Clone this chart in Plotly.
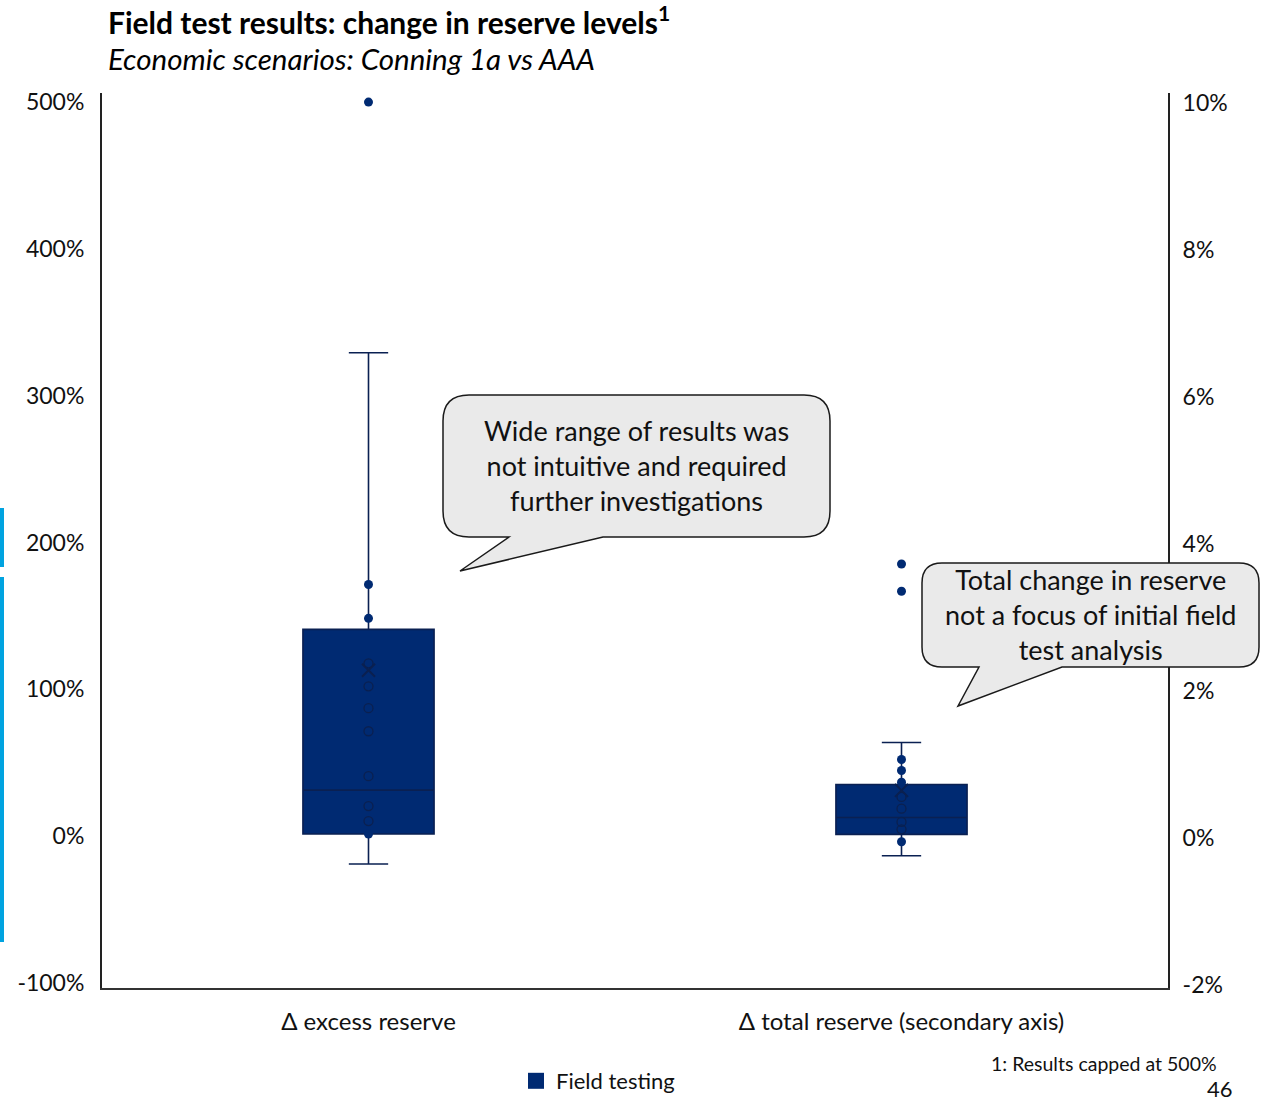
import plotly.graph_objects as go

# ---------------- data ----------------
categories = ["Δ excess reserve", "Δ total reserve (secondary axis)"]

# Δ excess reserve (primary axis, %)
excess_q1 = 1.4
excess_median = 31.3
excess_q3 = 140.8
excess_lower = -19.0
excess_upper = 329.3
excess_mean = 113.0
excess_inner_points = [117.7, 102.0, 87.1, 71.4, 40.8, 20.4, 10.2]
excess_marked_points = [171.4, 148.3, 1.4]
excess_outliers = [500.0]

# Δ total reserve (secondary axis, %)
total_q1 = 0.05
total_median = 0.28
total_q3 = 0.73
total_lower = -0.24
total_upper = 1.30
total_mean = 0.65
total_inner_points = [0.56, 0.40, 0.22, 0.12]
total_marked_points = [1.07, 0.92, 0.76, -0.05]
total_outliers = [3.73, 3.36]

left_ticks = [-100, 0, 100, 200, 300, 400, 500]
left_tick_text = ["-100%", "0%", "100%", "200%", "300%", "400%", "500%"]
right_ticks = [-2, 0, 2, 4, 6, 8, 10]
right_tick_text = ["-2%", "0%", "2%", "4%", "6%", "8%", "10%"]

series_name = "Field testing"
callout_1 = "Wide range of results was<br>not intuitive and required<br>further investigations"
callout_2 = "Total change in reserve<br>not a focus of initial field<br>test analysis"

# ---------------- style ----------------
NAVY = "#002A72"
NAVY_DARK = "#0A2052"
FONT = "Lato"
W, H = 1268, 1103
L, R, T, B = 102, 1168, 93, 988


def px(x):
    return (x - L) / (R - L)


def py(y):
    return (B - y) / (B - T)


fig = go.Figure()

# box traces
fig.add_trace(go.Box(
    x=[categories[0]], q1=[excess_q1], median=[excess_median], q3=[excess_q3],
    lowerfence=[excess_lower], upperfence=[excess_upper],
    boxpoints=False, fillcolor=NAVY, line=dict(color=NAVY_DARK, width=1.6),
    width=0.246, whiskerwidth=0.3, showlegend=False, hoverinfo="skip", yaxis="y",
))
fig.add_trace(go.Box(
    x=[categories[1]], q1=[total_q1], median=[total_median], q3=[total_q3],
    lowerfence=[total_lower], upperfence=[total_upper],
    boxpoints=False, fillcolor=NAVY, line=dict(color=NAVY_DARK, width=1.6),
    width=0.246, whiskerwidth=0.3, showlegend=False, hoverinfo="skip", yaxis="y2",
))

# points: inner (hollow), marked (filled), outliers (filled), mean (x)
for cat, inner, marked, outl, mean, ax in [
    (categories[0], excess_inner_points, excess_marked_points, excess_outliers, excess_mean, "y"),
    (categories[1], total_inner_points, total_marked_points, total_outliers, total_mean, "y2"),
]:
    fig.add_trace(go.Scatter(
        x=[cat] * len(inner), y=inner, mode="markers", yaxis=ax,
        marker=dict(symbol="circle-open", size=9, color="#0A2050", line=dict(width=1.3)),
        showlegend=False, hoverinfo="skip",
    ))
    fig.add_trace(go.Scatter(
        x=[cat] * len(marked + outl), y=marked + outl, mode="markers", yaxis=ax,
        marker=dict(symbol="circle", size=9, color=NAVY),
        showlegend=False, hoverinfo="skip",
    ))
    fig.add_trace(go.Scatter(
        x=[cat], y=[mean], mode="markers", yaxis=ax,
        marker=dict(symbol="x-thin-open", size=13, color="#0A2050", line=dict(width=2)),
        showlegend=False, hoverinfo="skip",
    ))

# legend entry
fig.add_trace(go.Scatter(
    x=[None], y=[None], mode="markers", name=series_name,
    marker=dict(symbol="square", size=20, color=NAVY), showlegend=True,
))


# speech bubbles
def bubble(x0, y0, x1, y1, r, ta, tip, tb):
    def P(x, y):
        return f"{px(x):.5f},{py(y):.5f}"
    d = (f"M {P(x0 + r, y0)} L {P(x1 - r, y0)} Q {P(x1, y0)} {P(x1, y0 + r)} "
         f"L {P(x1, y1 - r)} Q {P(x1, y1)} {P(x1 - r, y1)} "
         f"L {P(tb, y1)} L {P(tip[0], tip[1])} L {P(ta, y1)} "
         f"L {P(x0 + r, y1)} Q {P(x0, y1)} {P(x0, y1 - r)} "
         f"L {P(x0, y0 + r)} Q {P(x0, y0)} {P(x0 + r, y0)} Z")
    return dict(type="path", path=d, xref="paper", yref="paper", layer="above",
                fillcolor="#EAEAEA", line=dict(color="#1A1A1A", width=1.5))


shapes = [
    bubble(443, 395, 830, 537, 26, 509, (460, 571), 603),
    bubble(922, 563, 1259, 667, 20, 979, (958, 706), 1062),
    dict(type="rect", xref="paper", yref="paper", x0=px(0), x1=px(4), y0=py(567), y1=py(508),
         fillcolor="#00A3E0", line=dict(width=0), layer="above"),
    dict(type="rect", xref="paper", yref="paper", x0=px(0), x1=px(4), y0=py(942), y1=py(577),
         fillcolor="#00A3E0", line=dict(width=0), layer="above"),
]

annotations = [
    dict(text="<b>Field test results: change in reserve levels<sup>1</sup></b>", x=px(106), y=py(20),
         xref="paper", yref="paper", xanchor="left", yanchor="middle", showarrow=False,
         font=dict(family=FONT, size=30, color="#000000")),
    dict(text="<i>Economic scenarios: Conning 1a vs AAA</i>", x=px(106), y=py(58),
         xref="paper", yref="paper", xanchor="left", yanchor="middle", showarrow=False,
         font=dict(family=FONT, size=29.5, color="#000000")),
    dict(text=callout_1, x=px(636), y=py(466), xref="paper", yref="paper",
         xanchor="center", yanchor="middle", showarrow=False,
         font=dict(family=FONT, size=27, color="#111111")),
    dict(text=callout_2, x=px(1090), y=py(614), xref="paper", yref="paper",
         xanchor="center", yanchor="middle", showarrow=False,
         font=dict(family=FONT, size=27, color="#111111")),
    dict(text="1: Results capped at 500%", x=px(1219), y=py(1063), xref="paper", yref="paper",
         xanchor="right", yanchor="middle", showarrow=False,
         font=dict(family=FONT, size=19.5, color="#111111")),
    dict(text="46", x=px(1235), y=py(1088), xref="paper", yref="paper",
         xanchor="right", yanchor="middle", showarrow=False,
         font=dict(family=FONT, size=22, color="#111111")),
]

fig.update_layout(
    width=W, height=H,
    margin=dict(l=L, r=W - R, t=T, b=H - B, autoexpand=False),
    paper_bgcolor="white", plot_bgcolor="white",
    font=dict(family=FONT, size=22, color="#111111"),
    boxmode="overlay",
    showlegend=True,
    legend=dict(orientation="h", x=px(598), y=py(1081), xanchor="center", yanchor="middle",
                font=dict(family=FONT, size=22, color="#111111"), itemsizing="trace"),
    xaxis=dict(type="category", categoryorder="array", categoryarray=categories,
               range=[-0.5, 1.5], showline=True, linecolor="#333333", linewidth=2,
               showgrid=False, zeroline=False, ticks="outside", ticklen=11,
               tickcolor="rgba(0,0,0,0)", tickfont=dict(family=FONT, size=24)),
    yaxis=dict(range=[-103.5, 506.2], tickvals=left_ticks, ticktext=left_tick_text,
               showline=True, linecolor="#222222", linewidth=2, showgrid=False,
               zeroline=False, ticks="outside", ticklen=11, tickcolor="rgba(0,0,0,0)",
               tickfont=dict(family=FONT, size=23)),
    yaxis2=dict(range=[-2.04, 10.14], tickvals=right_ticks, ticktext=right_tick_text,
                overlaying="y", side="right", showline=True, linecolor="#222222",
                linewidth=2, showgrid=False, zeroline=False, ticks="outside", ticklen=8,
                tickcolor="rgba(0,0,0,0)", tickfont=dict(family=FONT, size=23)),
    shapes=shapes,
    annotations=annotations,
)

fig.write_html("out.html")
